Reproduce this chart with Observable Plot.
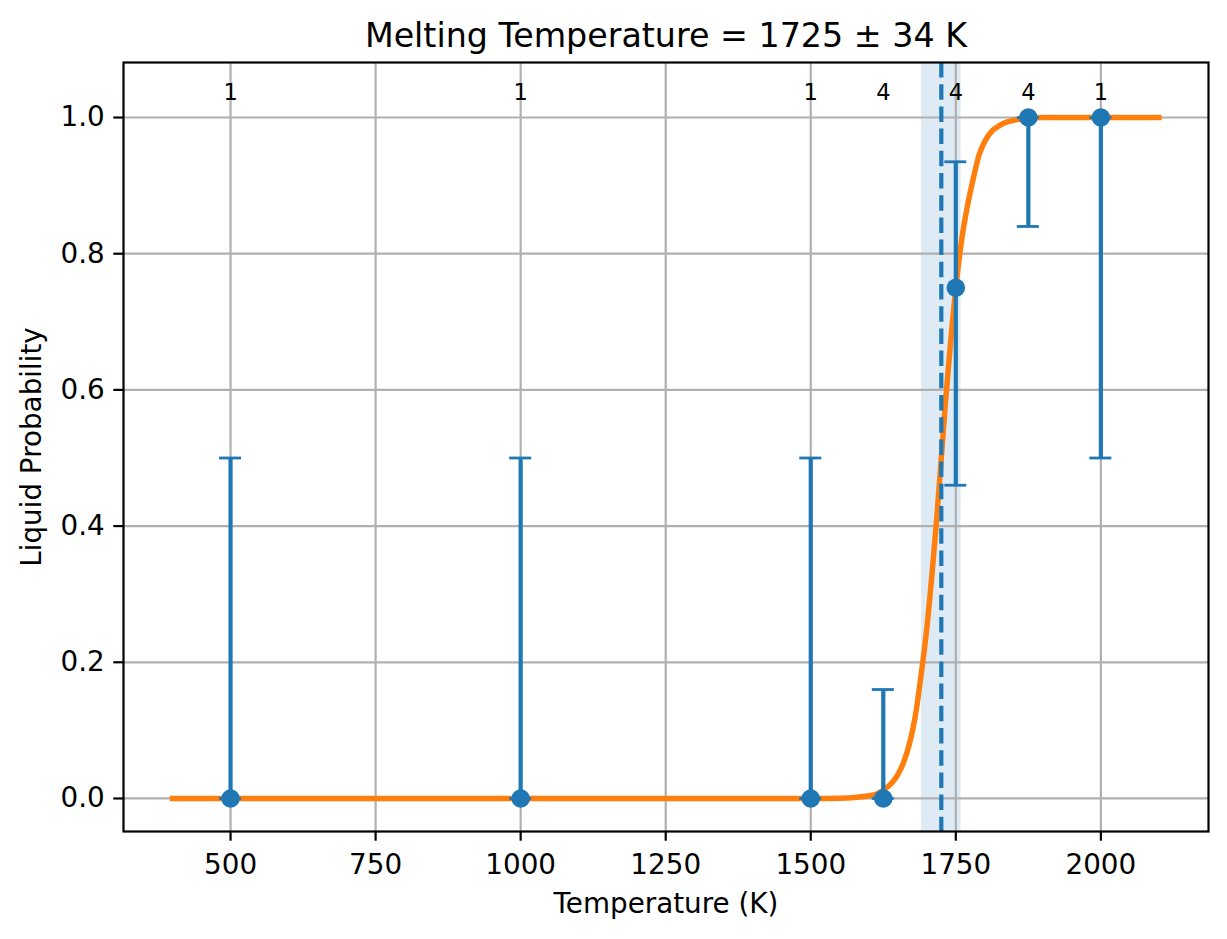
<!DOCTYPE html>
<html><head><meta charset="utf-8">
<script src="https://cdn.jsdelivr.net/npm/d3@7"></script>
<script src="https://cdn.jsdelivr.net/npm/@observablehq/plot@0.6"></script>
<style>html,body{margin:0;padding:0;background:#fff;}</style>
</head><body><div id="chart"></div>
<script>
// Measured points (temperature, liquid fraction, interval, number of runs)
const temps = [500, 1000, 1500, 1625, 1750, 1875, 2000];
const probs = [0, 0, 0, 0, 0.75, 1, 1];
const errLow = [0, 0, 0, 0, 0.46, 0.84, 0.5];
const errHigh = [0.5, 0.5, 0.5, 0.16, 0.935, 1, 1];
const counts = [1, 1, 1, 4, 4, 4, 1];

// Fitted curve
const curveT = [400, 1500, 1550, 1575, 1600, 1615, 1625, 1640, 1650, 1660, 1670, 1680, 1690, 1700, 1710, 1717, 1725, 1732, 1740, 1750, 1760, 1770, 1780, 1790, 1800, 1812, 1825, 1840, 1850, 1875, 1900, 2100];
const curveP = [0, 0, 0.0005, 0.0015, 0.004, 0.007, 0.012, 0.023, 0.035, 0.053, 0.08, 0.12, 0.18, 0.25, 0.34, 0.41, 0.5, 0.58, 0.66, 0.75, 0.82, 0.87, 0.91, 0.945, 0.965, 0.98, 0.988, 0.994, 0.996, 0.999, 1, 1];

// Melting temperature estimate
const melt = 1725;
const meltErr = 34;

const xTicks = [500, 750, 1000, 1250, 1500, 1750, 2000];
const yTicks = [0, 0.2, 0.4, 0.6, 0.8, 1.0];

const titleText = `Melting Temperature = ${melt} ± ${meltErr} K`;
const xLabel = "Temperature (K)";
const yLabel = "Liquid Probability";

const rows = temps.map((t, i) => ({t, p: probs[i], lo: errLow[i], hi: errHigh[i], n: counts[i]}));
const curve = curveT.map((t, i) => ({t, p: curveP[i]}));

const C0 = "#1f77b4", C1 = "#ff7f0e";

const chart = Plot.plot({
  width: 1227, height: 939,
  marginLeft: 123, marginRight: 19, marginTop: 62, marginBottom: 108,
  style: {fontFamily: "DejaVu Sans", fontSize: "27.8px", background: "#fff", color: "#000", overflow: "visible"},
  x: {domain: [315.5, 2185.5], label: null},
  y: {domain: [-0.0485, 1.0808], label: null},
  marks: [
    Plot.rect([{lo: melt - meltErr, hi: melt + meltErr}], {x1: "lo", x2: "hi", fill: C0, fillOpacity: 0.15}),
    Plot.gridX(xTicks, {stroke: "#b0b0b0", strokeOpacity: 1, strokeWidth: 2.2}),
    Plot.gridY(yTicks, {stroke: "#b0b0b0", strokeOpacity: 1, strokeWidth: 2.2}),
    Plot.line(curve, {x: "t", y: "p", stroke: C1, strokeWidth: 5.5, strokeLinecap: "square", curve: "monotone-x"}),
    Plot.ruleX([melt], {stroke: C0, strokeWidth: 4.2, strokeDasharray: "15.5,6.7"}),
    Plot.ruleX(rows, {x: "t", y1: "lo", y2: "hi", stroke: C0, strokeWidth: 4.2}),
    Plot.ruleY(rows, {x1: "t", x2: "t", y: "lo", stroke: C0, strokeWidth: 2.8, insetLeft: -11, insetRight: -11}),
    Plot.ruleY(rows, {x1: "t", x2: "t", y: "hi", stroke: C0, strokeWidth: 2.8, insetLeft: -11, insetRight: -11}),
    Plot.dot(rows, {x: "t", y: "p", r: 9.3, fill: C0, stroke: "none"}),
    Plot.text(rows, {x: "t", frameAnchor: "top", dy: 30, text: d => String(d.n), fontSize: 22.5, lineAnchor: "middle", fill: "#000"}),
    Plot.axisX(xTicks, {tickSize: 9.7, tickPadding: 13, strokeWidth: 2.2, fontSize: 27.8, tickFormat: d3.format("d"), label: null, fill: "#000"}),
    Plot.axisY(yTicks, {tickSize: 9.7, tickPadding: 9, strokeWidth: 2.2, fontSize: 27.8, tickFormat: d3.format(".1f"), label: null, fill: "#000"}),
    Plot.text([titleText], {frameAnchor: "top", dy: -26, fontSize: 33.3, lineAnchor: "middle", textAnchor: "middle", fill: "#000"}),
    Plot.text([xLabel], {frameAnchor: "bottom", dy: 73, fontSize: 27.8, lineAnchor: "middle", textAnchor: "middle", fill: "#000"}),
    Plot.text([yLabel], {frameAnchor: "left", dx: -91, rotate: -90, fontSize: 27.8, lineAnchor: "middle", textAnchor: "middle", fill: "#000"}),
    Plot.frame({stroke: "#000", strokeWidth: 2.2})
  ]
});
document.getElementById("chart").appendChild(chart);
</script>
</body></html>
